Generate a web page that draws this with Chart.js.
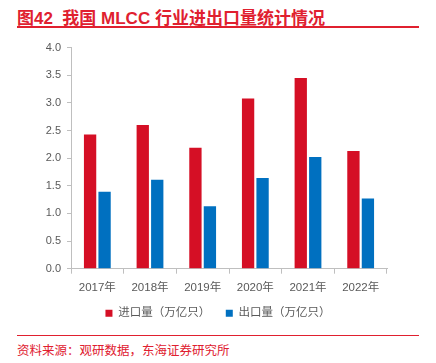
<!DOCTYPE html>
<html><head><meta charset="utf-8">
<script src="https://cdn.jsdelivr.net/npm/chart.js@4"></script>
<style>
html,body{margin:0;padding:0;background:#fff;width:436px;height:363px;overflow:hidden;font-family:"Liberation Sans","Noto Sans CJK SC",sans-serif;}
#title{position:absolute;left:17px;top:4px;font-size:17px;font-weight:bold;color:#E0202F;white-space:nowrap;letter-spacing:0px;}
#line1{position:absolute;left:17px;top:26px;width:402px;height:2px;background:#E0202F;}
#line2{position:absolute;left:17px;top:335px;width:402px;height:1px;background:#E0202F;}
#src{position:absolute;left:17px;top:340px;font-size:12.5px;color:#E0202F;white-space:nowrap;}
#wrap{position:absolute;left:0;top:35px;width:436px;height:294px;}
</style></head><body>
<div id="title">图42&nbsp;&nbsp;我国 MLCC 行业进出口量统计情况</div>
<div id="line1"></div>
<div id="wrap"><canvas id="c" width="436" height="294"></canvas></div>
<div id="line2"></div>
<div id="src">资料来源：观研数据，东海证券研究所</div>
<script>
const categories = ["2017年","2018年","2019年","2020年","2021年","2022年"];
const importVol = [2.43, 2.60, 2.19, 3.08, 3.45, 2.13];
const exportVol = [1.39, 1.61, 1.13, 1.64, 2.02, 1.27];
const seriesNames = ["进口量（万亿只）","出口量（万亿只）"];

const font = {family:'"Liberation Sans","Noto Sans CJK SC",sans-serif', size:11};
new Chart(document.getElementById('c'), {
  type:'bar',
  data:{labels:categories, datasets:[
    {label:seriesNames[0], data:importVol, backgroundColor:'#D50F25', yAxisID:'y'},
    {label:seriesNames[1], data:exportVol, backgroundColor:'#0070C0', yAxisID:'y'}
  ]},
  options:{
    responsive:false, animation:false,
    layout:{padding:{top:12,left:0,right:0,bottom:0}},
    datasets:{bar:{categoryPercentage:0.55, barPercentage:0.85}},
    plugins:{
      legend:{position:'bottom', labels:{boxWidth:7, boxHeight:7, color:'#595959', font:{...font, size:11.5}, padding:6,
        generateLabels:(chart)=>{
          const items = Chart.defaults.plugins.legend.labels.generateLabels(chart);
          items.forEach((it,i)=>{ if(i < items.length-1) it.text = it.text + '   '; });
          return items;
        }}},
      tooltip:{enabled:false}
    },
    scales:{
      x:{grid:{display:true, drawOnChartArea:false, drawTicks:true, tickLength:5, offset:true, color:'#BFBFBF'},
         border:{color:'#BFBFBF'},
         ticks:{color:'#595959', font:{...font, size:11.5}, padding:7}},
      y:{min:0, max:4, grid:{drawOnChartArea:false, tickLength:4, color:'#BFBFBF'},
         border:{color:'#BFBFBF'},
         ticks:{stepSize:0.5, color:'#595959', font:font, padding:6, callback:v=>v.toFixed(1)},
         afterFit:s=>{s.width=71;}},
      y2:{position:'right', display:true, grid:{display:false}, border:{display:false}, ticks:{display:false},
         afterFit:s=>{s.width=49;}}
    }
  }
});
</script>
</body></html>
